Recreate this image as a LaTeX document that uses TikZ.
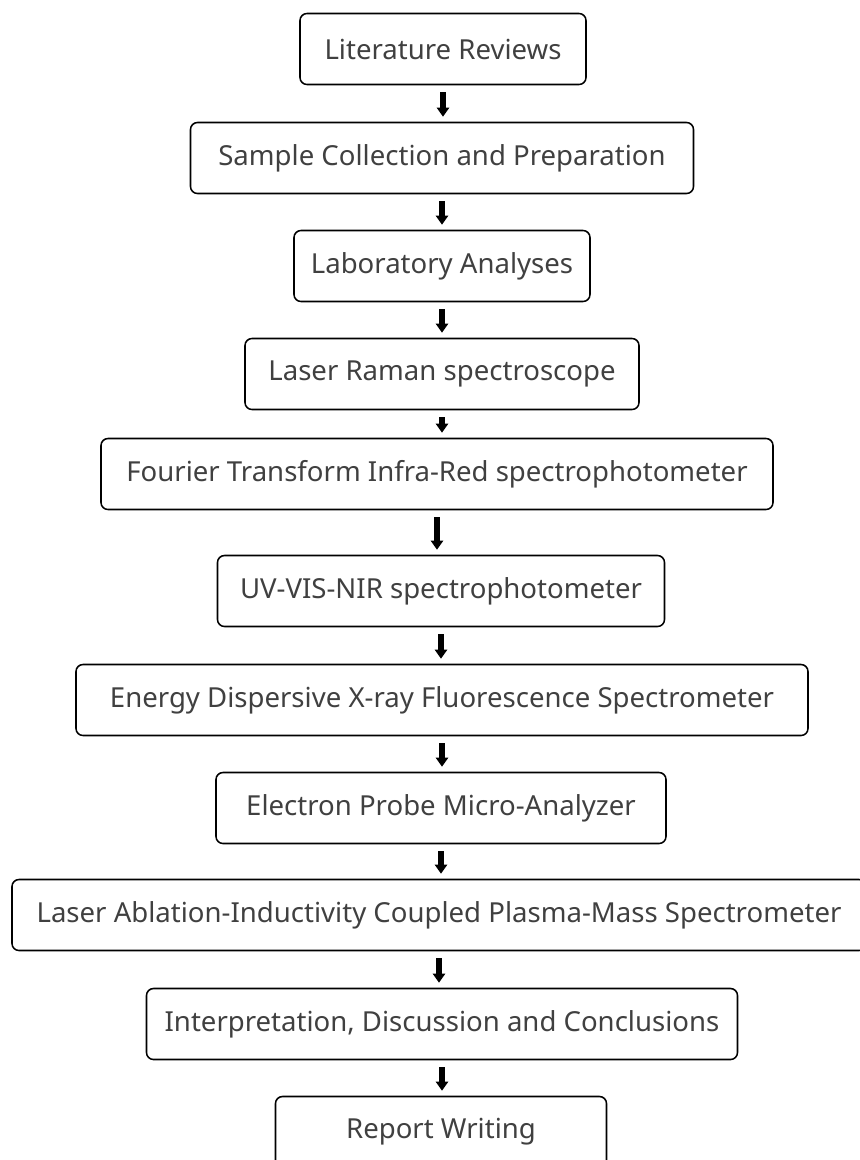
\documentclass[tikz,border=0pt]{standalone}
\usepackage{fontspec}
\setmainfont{Noto Sans}
\usetikzlibrary{arrows.meta}
\definecolor{stagetext}{RGB}{64,64,64}
\def\pxu{0.025cm}
\tikzset{stage/.style={draw=black,line width=1.1pt,rounded corners=7*\pxu,minimum height=71*\pxu,inner sep=0pt,text=stagetext,font=\fontsize{19.6}{22}\selectfont},
 flow/.style={line width=5.5*\pxu,-{Triangle[length=9*\pxu,width=12*\pxu]},shorten <=7*\pxu,shorten >=5*\pxu}}

\begin{document}
\begin{tikzpicture}[x=\pxu,y=-\pxu]
\useasboundingbox (0,0) rectangle (860,1160);
\node[stage,minimum width=286*\pxu] (litrev) at (443,49) {Literature Reviews};
\node[stage,minimum width=503*\pxu] (sample) at (442,158) {Sample Collection and Preparation};
\node[stage,minimum width=296*\pxu] (lab) at (442,266) {Laboratory Analyses};
\node[stage,minimum width=394*\pxu] (raman) at (442,374) {Laser Raman spectroscope};
\node[stage,minimum width=672*\pxu] (ftir) at (437,474) {Fourier Transform Infra-Red spectrophotometer};
\node[stage,minimum width=447*\pxu] (uvvis) at (441,591) {UV-VIS-NIR spectrophotometer};
\node[stage,minimum width=732*\pxu] (edxrf) at (442,700) {Energy Dispersive X-ray Fluorescence Spectrometer};
\node[stage,minimum width=450*\pxu] (epma) at (441,808) {Electron Probe Micro-Analyzer};
\node[stage,minimum width=854*\pxu] (laicp) at (439,915) {Laser Ablation-Inductivity Coupled Plasma-Mass Spectrometer};
\node[stage,minimum width=591*\pxu] (interp) at (442,1024) {Interpretation, Discussion and Conclusions};
\node[stage,minimum width=331*\pxu] (report) at (441,1132) {Report Writing};
% arrows between stages
\foreach \a/\b in {litrev/sample,sample/lab,lab/raman,raman/ftir,ftir/uvvis,uvvis/edxrf,edxrf/epma,epma/laicp,laicp/interp,interp/report}
 \draw[flow] (\a.south) -- (\a.south |- \b.north);
\end{tikzpicture}
\end{document}
